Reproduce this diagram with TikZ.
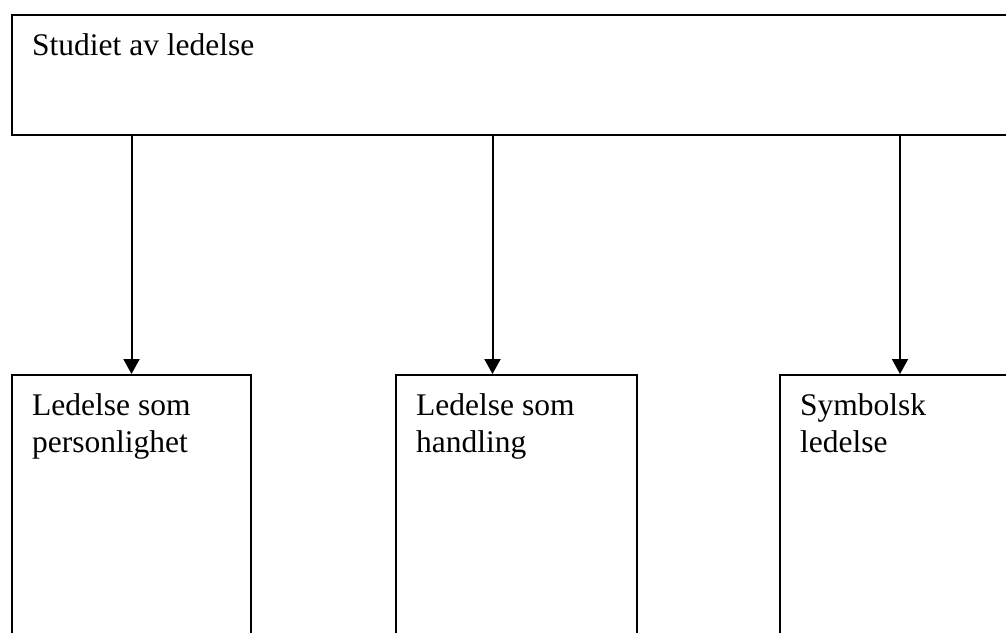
\documentclass[tikz,border=0pt]{standalone}
\usepackage{fontspec}
\setmainfont{Liberation Serif}
\usetikzlibrary{arrows.meta}
\tikzset{
	box/.style = {draw, line width = 2pt, rectangle, anchor = north west, inner sep = 0pt},
	lbl/.style = {anchor = north west, inner sep = 0pt, align = left, font = \fontsize{31.5}{37}\selectfont},
	arr/.style = {line width = 2pt, -{Triangle[width = 16pt, length = 15pt]}}
}
\begin{document}
\begin{tikzpicture}[x = 1pt, y = -1pt]
	\useasboundingbox (0,0) rectangle (1006,632);
	\clip (0,0) rectangle (1006,632);
	% boxes
	\node [box, minimum width = 1010pt, minimum height = 120pt] (studie) at (11,14) {};
	\node [box, minimum width = 239pt, minimum height = 276pt] (person) at (11,374) {};
	\node [box, minimum width = 241pt, minimum height = 276pt] (handling) at (395,374) {};
	\node [box, minimum width = 240pt, minimum height = 276pt] (symbol) at (779,374) {};
	% texts
	\node [lbl] (studietxt) at ([shift = {(21,19)}]studie.north west) {Studiet av ledelse};
	\node [lbl] (persontxt) at ([shift = {(21,19)}]person.north west) {Ledelse som\\personlighet};
	\node [lbl] (handlingtxt) at ([shift = {(21,19)}]handling.north west) {Ledelse som\\handling};
	\node [lbl] (symboltxt) at ([shift = {(21,19)}]symbol.north west) {Symbolsk\\ledelse};
	% arrows
	\draw [arr] (person.north |- studie.south) -- (person.north);
	\draw [arr] ([xshift = -24pt]handling.north |- studie.south) -- ([xshift = -24pt]handling.north);
	\draw [arr] (symbol.north |- studie.south) -- (symbol.north);
\end{tikzpicture}
\end{document}
